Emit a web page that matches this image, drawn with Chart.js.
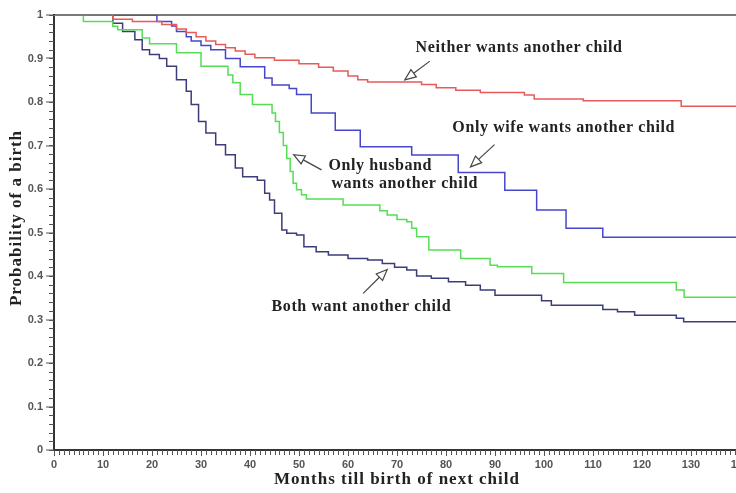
<!DOCTYPE html>
<html><head><meta charset="utf-8">
<script src="https://cdn.jsdelivr.net/npm/chart.js@4/dist/chart.umd.min.js"></script>
<style>
html,body{margin:0;padding:0;overflow:hidden;background:#fff}
#wrap{position:absolute;left:0;top:0;width:760px;height:493px}
</style>
</head><body><div id="wrap"><canvas id="c"></canvas></div>
<script>
// ---- data (months since previous birth, probability no birth yet) ----
const neitherMonths = [0, 12, 16, 22, 25, 27, 29, 31, 33, 35, 37, 39, 41, 45, 50, 54, 57, 60, 62, 64, 75, 78, 82, 87, 96, 98, 108, 128, 140];
const neitherProb   = [1, 0.99, 0.985, 0.978, 0.968, 0.96, 0.95, 0.94, 0.932, 0.925, 0.917, 0.91, 0.902, 0.896, 0.888, 0.88, 0.871, 0.86, 0.851, 0.846, 0.84, 0.833, 0.827, 0.822, 0.816, 0.807, 0.803, 0.79, 0.79];

const wifeMonths = [0, 21, 24, 25, 27, 28, 30, 32, 35, 38, 43, 44.5, 48, 49.5, 52.5, 57.4, 62.5, 73, 82.5, 92, 98.5, 104.5, 112, 140];
const wifeProb   = [1, 0.985, 0.975, 0.962, 0.95, 0.94, 0.93, 0.92, 0.9, 0.881, 0.855, 0.839, 0.831, 0.817, 0.775, 0.735, 0.697, 0.678, 0.638, 0.597, 0.552, 0.51, 0.489, 0.489];

const husbandMonths = [0, 6, 12, 13, 18, 19.5, 25, 30, 35.5, 36.5, 38, 40.5, 44.5, 45.2, 46, 46.8, 47.5, 48.2, 48.8, 49.5, 50.5, 51.5, 59, 66.5, 68, 70, 72, 73, 74, 76.5, 83, 89, 90.5, 97.5, 104, 127, 128.6, 140];
const husbandProb   = [1, 0.985, 0.974, 0.966, 0.947, 0.934, 0.913, 0.882, 0.862, 0.844, 0.817, 0.794, 0.775, 0.755, 0.73, 0.7, 0.67, 0.64, 0.613, 0.598, 0.587, 0.577, 0.563, 0.55, 0.54, 0.53, 0.525, 0.51, 0.49, 0.46, 0.44, 0.425, 0.421, 0.406, 0.385, 0.368, 0.351, 0.351];

const bothMonths = [0, 12, 14, 16.5, 18, 19.5, 21.5, 23, 25, 27, 28, 29.5, 31, 33, 35, 37, 38.5, 41.5, 43, 44, 45, 46.5, 47.5, 49.5, 51, 53.5, 56, 60, 64, 67, 69.5, 72, 74, 77, 80.5, 84, 87, 90, 99.5, 101.5, 112, 115, 118.5, 127, 128.5, 140];
const bothProb   = [1, 0.981, 0.962, 0.943, 0.92, 0.909, 0.9, 0.882, 0.851, 0.825, 0.794, 0.755, 0.729, 0.702, 0.679, 0.648, 0.628, 0.62, 0.59, 0.575, 0.544, 0.506, 0.498, 0.494, 0.467, 0.456, 0.448, 0.44, 0.437, 0.429, 0.42, 0.414, 0.4, 0.395, 0.387, 0.379, 0.368, 0.356, 0.343, 0.333, 0.323, 0.318, 0.31, 0.303, 0.295, 0.295];

const xTickValues = [0, 10, 20, 30, 40, 50, 60, 70, 80, 90, 100, 110, 120, 130, 140];
const yTickValues = [0, 0.1, 0.2, 0.3, 0.4, 0.5, 0.6, 0.7, 0.8, 0.9, 1];
const yTickLabels = ['0', '0.1', '0.2', '0.3', '0.4', '0.5', '0.6', '0.7', '0.8', '0.9', '1'];
const xTitle = 'Months till birth of next child';
const yTitle = 'Probability of a birth';

// annotations: label lines, text anchor (months, prob), arrow tail/tip (months, prob)
const noteLines = [['Neither wants another child'], ['Only wife wants another child'], ['Only husband', 'wants another child'], ['Both want another child']];
const noteTextAt = [[73.8, 0.924], [81.3, 0.74], [56.0, 0.653], [44.4, 0.329]];
const arrowTail = [[76.7, 0.894], [89.9, 0.702], [54.6, 0.644], [63.1, 0.36]];
const arrowTip  = [[71.6, 0.851], [85.0, 0.651], [48.9, 0.679], [68.0, 0.415]];

const toXY = (ms, ps) => ms.map((m, i) => ({x: m, y: ps[i]}));

const minorTicks = {
  id: 'minorTicks',
  afterDraw(chart) {
    const {ctx, scales: {x, y}} = chart;
    ctx.save();
    ctx.strokeStyle = '#555';
    ctx.lineWidth = 1;
    for (let m = 0; m <= 140; m += 1) {
      const px = Math.round(x.getPixelForValue(m)) + 0.5;
      ctx.beginPath(); ctx.moveTo(px, y.bottom); ctx.lineTo(px, y.bottom + 5); ctx.stroke();
    }
    for (let i = 0; i <= 50; i++) {
      const py = Math.round(y.getPixelForValue(i * 0.02)) + 0.5;
      ctx.beginPath(); ctx.moveTo(x.left - 5, py); ctx.lineTo(x.left, py); ctx.stroke();
    }
    ctx.restore();
  }
};

const notes = {
  id: 'notes',
  afterDraw(chart) {
    const {ctx, scales: {x, y}} = chart;
    ctx.save();
    ctx.fillStyle = '#222';
    ctx.textBaseline = 'middle';
    // axis titles
    ctx.font = 'bold 17px "Liberation Serif"';
    ctx.letterSpacing = '1px';
    ctx.textAlign = 'center';
    ctx.fillText(xTitle, (x.left + x.right) / 2, 480);
    ctx.save();
    ctx.translate(17, 218);
    ctx.rotate(-Math.PI / 2);
    ctx.fillText(yTitle, 0, 0);
    ctx.restore();

    ctx.font = 'bold 16px "Liberation Serif"';
    ctx.letterSpacing = '0.6px';
    ctx.textAlign = 'left';
    noteLines.forEach((lines, k) => {
      const tx = x.getPixelForValue(noteTextAt[k][0]);
      const ty = y.getPixelForValue(noteTextAt[k][1]);
      lines.forEach((t, j) => ctx.fillText(t, tx + (j ? 3 : 0), ty + j * 18));
      const ax = x.getPixelForValue(arrowTail[k][0]), ay = y.getPixelForValue(arrowTail[k][1]);
      const bx = x.getPixelForValue(arrowTip[k][0]), by = y.getPixelForValue(arrowTip[k][1]);
      const ang = Math.atan2(by - ay, bx - ax);
      const hl = 11, hw = 4.5;
      const baseX = bx - hl * Math.cos(ang), baseY = by - hl * Math.sin(ang);
      ctx.strokeStyle = '#444';
      ctx.lineWidth = 1.2;
      ctx.beginPath(); ctx.moveTo(ax, ay); ctx.lineTo(baseX, baseY); ctx.stroke();
      ctx.beginPath();
      ctx.moveTo(bx, by);
      ctx.lineTo(baseX + hw * Math.sin(ang), baseY - hw * Math.cos(ang));
      ctx.lineTo(baseX - hw * Math.sin(ang), baseY + hw * Math.cos(ang));
      ctx.closePath();
      ctx.fillStyle = '#fff';
      ctx.fill();
      ctx.stroke();
      ctx.fillStyle = '#222';
    });
    ctx.restore();
  }
};

const lineDs = (label, data, color) => ({
  label, data, borderColor: color, borderWidth: 1.5, pointRadius: 0, stepped: true, fill: false
});

new Chart(document.getElementById('c'), {
  type: 'line',
  data: {
    datasets: [
      lineDs('Neither wants another child', toXY(neitherMonths, neitherProb), '#e85a5a'),
      lineDs('Only wife wants another child', toXY(wifeMonths, wifeProb), '#4646cc'),
      lineDs('Only husband wants another child', toXY(husbandMonths, husbandProb), '#55dd55'),
      lineDs('Both want another child', toXY(bothMonths, bothProb), '#3c3c7a')
    ]
  },
  options: {
    responsive: true,
    maintainAspectRatio: false,
    animation: false,
    layout: {padding: {left: 0, right: 20, top: 15, bottom: 0}},
    plugins: {legend: {display: false}, tooltip: {enabled: false}},
    scales: {
      x: {
        type: 'linear', min: 0, max: 140,
        afterFit(s) { s.height = 43; },
        afterBuildTicks(s) { s.ticks = xTickValues.map(v => ({value: v})); },
        ticks: {font: {family: '"Liberation Sans"', size: 11, weight: 'bold'}, color: '#555', padding: 2, maxRotation: 0, autoSkip: false},
        grid: {drawOnChartArea: false, tickLength: 6, tickColor: '#555'},
        border: {color: '#333', width: 2},
        title: {display: false}
      },
      y: {
        min: 0, max: 1,
        afterFit(s) { s.width = 54; },
        afterBuildTicks(s) { s.ticks = yTickValues.map(v => ({value: v})); },
        ticks: {callback: (v, i) => yTickLabels[i], font: {family: '"Liberation Sans"', size: 11, weight: 'bold'}, color: '#555', padding: 3, autoSkip: false},
        grid: {color: c => (c.tick && c.tick.value === 1) ? '#7a7a7a' : 'rgba(0,0,0,0)', lineWidth: 2, tickLength: 8, tickColor: '#555', tickWidth: 1},
        border: {color: '#333', width: 2},
        title: {display: false}
      }
    }
  },
  plugins: [minorTicks, notes]
});
</script>
</body></html>
